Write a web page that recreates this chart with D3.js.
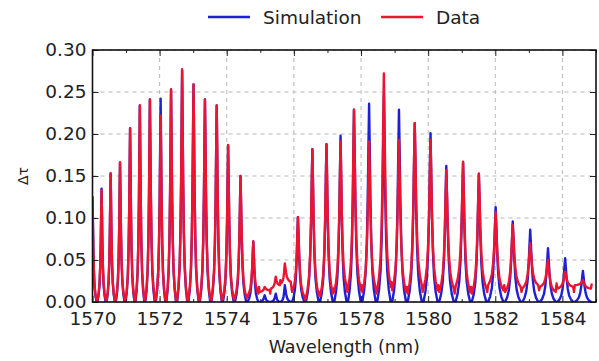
<!DOCTYPE html>
<html><head><meta charset="utf-8">
<script src="https://cdn.jsdelivr.net/npm/d3@7"></script>
<style>body{margin:0;background:#fff}svg{display:block}</style>
</head><body><svg id="c" width="599" height="361"></svg>
<script>
// ---- data ----
const peakWl = [1570.00,1570.27,1570.54,1570.82,1571.12,1571.41,1571.71,1572.03,1572.34,1572.67,1573.01,1573.35,1573.70,1574.04,1574.41,1574.79,1575.13,1575.46,1575.73,1576.12,1576.55,1576.97,1577.39,1577.79,1578.24,1578.68,1579.13,1579.60,1580.07,1580.54,1581.04,1581.51,1582.01,1582.52,1583.04,1583.57,1584.08,1584.61];
const simPeak = [0.125,0.135,0.153,0.166,0.207,0.234,0.241,0.242,0.253,0.275,0.259,0.241,0.234,0.186,0.150,0.072,0.008,0.010,0.020,0.101,0.182,0.188,0.198,0.229,0.236,0.245,0.229,0.213,0.201,0.162,0.166,0.152,0.113,0.096,0.086,0.064,0.052,0.037];
const dataPeak = [0.120,0.133,0.153,0.166,0.207,0.234,0.241,0.222,0.253,0.277,0.259,0.241,0.234,0.187,0.150,0.072,0.018,0.030,0.046,0.101,0.182,0.188,0.191,0.229,0.191,0.272,0.193,0.213,0.193,0.157,0.167,0.153,0.107,0.092,0.070,0.050,0.036,0.026];
// data valley levels after each peak: [foot right of peak, middle of gap, foot left of next peak]
const dataGap = [
 [0.002,0.001,0.003],[0.003,0.002,0.002],[0.002,0.001,0.003],[0.003,0.002,0.002],[0.002,0.001,0.003],
 [0.003,0.002,0.003],[0.004,0.002,0.003],[0.003,0.001,0.002],[0.002,0.002,0.003],[0.003,0.001,0.002],
 [0.002,0.002,0.003],[0.004,0.002,0.003],[0.003,0.003,0.004],[0.004,0.003,0.005],[0.006,0.005,0.007],
 [0.010,0.018,0.012],[0.014,0.010,0.016],[0.020,0.026,0.022],[0.024,0.018,0.012],[0.006,0.003,0.005],
 [0.008,0.012,0.007],[0.010,0.016,0.012],[0.018,0.012,0.016],[0.014,0.020,0.012],[0.016,0.010,0.014],
 [0.018,0.024,0.014],[0.012,0.018,0.010],[0.020,0.012,0.016],[0.014,0.020,0.012],[0.016,0.010,0.018],
 [0.012,0.018,0.010],[0.016,0.012,0.020],[0.014,0.020,0.012],[0.018,0.012,0.016],[0.020,0.014,0.018],
 [0.012,0.022,0.016],[0.018,0.012,0.020],[0.016,0.022,0.014]
];
const simBase = 0.0;
const xTicks = [1570,1572,1574,1576,1578,1580,1582,1584];
const xMinorTicks = [1571,1573,1575,1577,1579,1581,1583,1585];
const yTicks = [0.00,0.05,0.10,0.15,0.20,0.25,0.30];
const seriesNames = ["Simulation","Data"];
const seriesColors = ["#1f1fd6","#ec1430"];

// ---- layout ----
const svg = d3.select("#c");
const M = {l:92.5, r:596, t:50, b:302};
const x = d3.scaleLinear().domain([1570,1585]).range([M.l, M.r]);
const y = d3.scaleLinear().domain([0,0.30]).range([M.b, M.t]);
const font = "DejaVu Sans, sans-serif";

// peak shape template (fraction of half-gap, fraction of height)
const tmpl = [[0.9,0],[0.65,0.06],[0.45,0.15],[0.3,0.3],[0.18,0.52],[0.08,0.8],[0,1]];
function build(peaks, gapFn){
  const pts = [];
  const n = peakWl.length;
  for(let i=0;i<n;i++){
    const w = peakWl[i], p = peaks[i];
    const dL = i>0 ? (w-peakWl[i-1])/2 : (peakWl[1]-w)/2;
    const dR = i<n-1 ? (peakWl[i+1]-w)/2 : dL;
    const bL = i>0 ? gapFn(i-1)[2] : gapFn(0)[0];
    const bR = gapFn(i)[0];
    if(i===0) pts.push([w-dL, gapFn(0)[1]]);
    for(const [f,g] of tmpl) pts.push([w-f*dL, bL+(p-bL)*g]);
    for(let k=tmpl.length-2;k>=0;k--){const [f,g]=tmpl[k]; pts.push([w+f*dR, bR+(p-bR)*g]);}
    pts.push([w+dR, gapFn(i)[1]]);
  }
  return pts;
}
const simPts = build(simPeak, ()=>[simBase,simBase,simBase]);
const dataPts = build(dataPeak, i=>dataGap[i]);

svg.append("defs").append("clipPath").attr("id","clip")
  .append("rect").attr("x",M.l).attr("y",M.t).attr("width",M.r-M.l).attr("height",M.b-M.t);

// grid
const g = svg.append("g");
g.selectAll(".gx").data(xTicks).join("line")
  .attr("x1",d=>x(d)).attr("x2",d=>x(d)).attr("y1",M.t).attr("y2",M.b)
  .attr("stroke","#b8b8b8").attr("stroke-width",1).attr("stroke-dasharray","4,4");
g.selectAll(".gy").data(yTicks).join("line")
  .attr("x1",M.l).attr("x2",M.r).attr("y1",d=>y(d)).attr("y2",d=>y(d))
  .attr("stroke","#b8b8b8").attr("stroke-width",1).attr("stroke-dasharray","4,4");

// lines
const line = d3.line().x(d=>x(d[0])).y(d=>y(d[1]));
const lg = svg.append("g").attr("clip-path","url(#clip)");
lg.append("path").datum(simPts).attr("d",line).attr("fill","none")
  .attr("stroke",seriesColors[0]).attr("stroke-width",2.4).attr("stroke-linejoin","round");
lg.append("path").datum(dataPts).attr("d",line).attr("fill","none")
  .attr("stroke",seriesColors[1]).attr("stroke-width",2.4).attr("stroke-linejoin","round");

// axes with inside ticks on all sides
const axB = svg.append("g").attr("transform",`translate(0,${M.b})`)
  .call(d3.axisBottom(x).tickValues(xTicks).tickSize(-6).tickPadding(10).tickFormat(d3.format("d")));
const axT = svg.append("g").attr("transform",`translate(0,${M.t})`)
  .call(d3.axisTop(x).tickValues(xTicks).tickSize(-6).tickFormat(""));
const axL = svg.append("g").attr("transform",`translate(${M.l},0)`)
  .call(d3.axisLeft(y).tickValues(yTicks).tickSize(-6).tickPadding(6).tickFormat(d3.format(".2f")));
const axR = svg.append("g").attr("transform",`translate(${M.r},0)`)
  .call(d3.axisRight(y).tickValues(yTicks).tickSize(-6).tickFormat(""));
const axBm = svg.append("g").attr("transform",`translate(0,${M.b})`)
  .call(d3.axisBottom(x).tickValues(xMinorTicks).tickSize(-3).tickFormat(""));
const axTm = svg.append("g").attr("transform",`translate(0,${M.t})`)
  .call(d3.axisTop(x).tickValues(xMinorTicks).tickSize(-3).tickFormat(""));
[axB,axT,axL,axR,axBm,axTm].forEach(a=>{
  a.select(".domain").remove();
  a.selectAll(".tick line").attr("stroke","#222");
  a.selectAll("text").attr("font-family",font).attr("font-size",18.5).attr("fill","#222");
});
svg.append("rect").attr("x",M.l).attr("y",M.t).attr("width",M.r-M.l).attr("height",M.b-M.t)
  .attr("fill","none").attr("stroke","#111").attr("stroke-width",1.6);

// axis titles
svg.append("text").attr("x",(M.l+M.r)/2).attr("y",353).attr("text-anchor","middle")
  .attr("font-family",font).attr("font-size",17.5).attr("fill","#222").text("Wavelength (nm)");
svg.append("text").attr("transform","translate(28,176) rotate(-90)").attr("text-anchor","middle")
  .attr("font-family",font).attr("font-size",14).attr("fill","#222").text("Δτ");

// legend
const legX = [208, 381];
seriesNames.forEach((nm,i)=>{
  svg.append("line").attr("x1",legX[i]).attr("x2",legX[i]+42).attr("y1",17).attr("y2",17)
    .attr("stroke",seriesColors[i]).attr("stroke-width",2.4);
  svg.append("text").attr("x",legX[i]+55).attr("y",23.5).attr("font-family",font)
    .attr("font-size",18.5).attr("fill","#222").text(nm);
});
</script></body></html>
